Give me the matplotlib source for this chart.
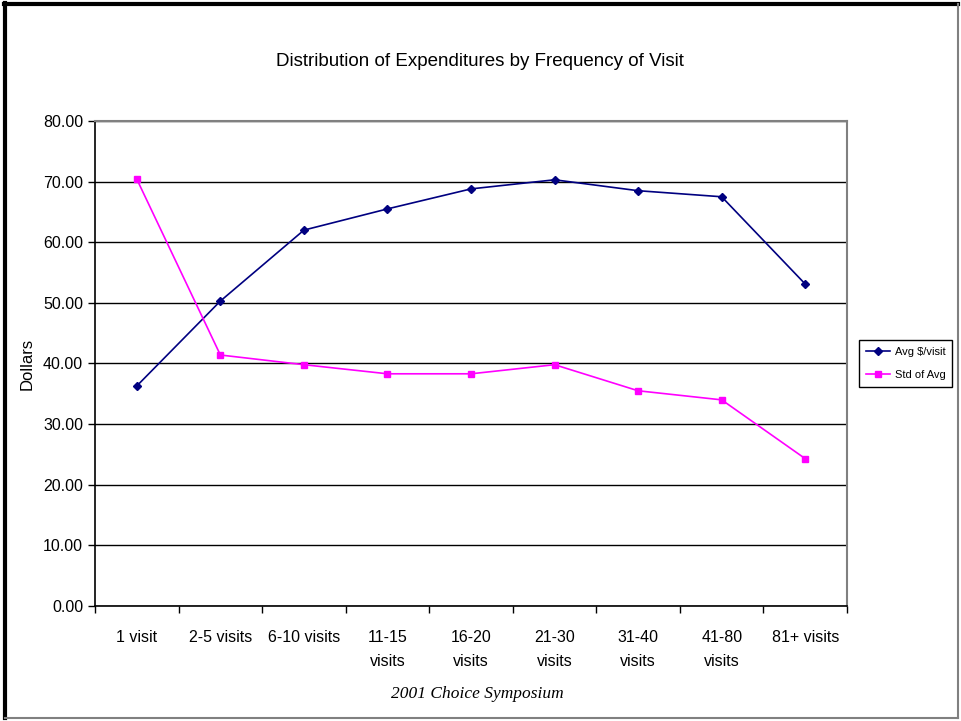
import numpy as np
import matplotlib.pyplot as plt
from matplotlib.lines import Line2D

# data
categories = ["1 visit", "2-5 visits", "6-10 visits", "11-15\nvisits", "16-20\nvisits",
              "21-30\nvisits", "31-40\nvisits", "41-80\nvisits", "81+ visits"]
avg_visit = [36.3, 50.3, 62.0, 65.5, 68.8, 70.3, 68.5, 67.5, 53.1]
std_avg = [70.4, 41.4, 39.8, 38.3, 38.3, 39.8, 35.5, 34.0, 24.3]
y_ticks = [0, 10, 20, 30, 40, 50, 60, 70, 80]

plt.rcParams['font.family'] = ['Liberation Sans', 'DejaVu Sans']

fig = plt.figure(figsize=(9.61, 7.21), dpi=100)
ax = fig.add_axes([0.0989, 0.1595, 0.7825, 0.6727])

x = np.arange(len(categories))
ax.plot(x, avg_visit, color="#000080", marker="D", markersize=4.5, lw=1.2, label="Avg $/visit")
ax.plot(x, std_avg, color="#FF00FF", marker="s", markersize=5, lw=1.2, label="Std of Avg")

ax.set_xlim(-0.5, len(categories) - 0.5)
ax.set_ylim(0, 80)
ax.set_yticks(y_ticks)
ax.set_yticklabels(["{:.2f}".format(v) for v in y_ticks], fontsize=11.5)
ax.yaxis.grid(True, color="black", lw=1)
ax.set_axisbelow(True)

# category labels centred, tick marks between categories
ax.set_xticks(np.arange(-0.5, len(categories)), minor=False)
ax.set_xticklabels([])
ax.set_xticks(x, minor=True)
ax.set_xticklabels(categories, minor=True, fontsize=11.5, linespacing=1.75)
ax.tick_params(axis="x", which="minor", length=0, pad=17)
ax.tick_params(axis="x", which="major", direction="out", length=5, width=1)
ax.tick_params(axis="y", direction="out", length=5, width=1)

for s in ["top", "right"]:
    ax.spines[s].set_color("#808080")
    ax.spines[s].set_linewidth(1.5)
for s in ["left", "bottom"]:
    ax.spines[s].set_color("black")
    ax.spines[s].set_linewidth(1.2)

ax.set_ylabel("Dollars", fontsize=12, labelpad=6)

fig.text(0.499, 0.915, "Distribution of Expenditures by Frequency of Visit",
         ha="center", va="center", fontsize=13.5)
fig.text(0.497, 0.038, "2001 Choice Symposium", ha="center", va="center",
         fontsize=12.5, style="italic", family=["Liberation Serif", "DejaVu Serif"])

leg = ax.legend(loc="center left", bbox_to_anchor=(1.01, 0.5), fontsize=8,
                frameon=True, fancybox=False, edgecolor="black", framealpha=1,
                borderpad=0.6, handlelength=2.2, handletextpad=0.4, labelspacing=1.2,
                borderaxespad=0.4)
leg.get_frame().set_linewidth(1)

# slide border
fig.add_artist(Line2D([0.004, 0.997], [0.995, 0.995], transform=fig.transFigure, color="black", lw=3))
fig.add_artist(Line2D([0.005, 0.005], [0.004, 0.996], transform=fig.transFigure, color="black", lw=3))
fig.add_artist(Line2D([0.997, 0.997], [0.004, 0.995], transform=fig.transFigure, color="#808080", lw=1.5))
fig.add_artist(Line2D([0.005, 0.997], [0.004, 0.004], transform=fig.transFigure, color="#808080", lw=1.5))

fig.savefig("out.png", dpi=100)
